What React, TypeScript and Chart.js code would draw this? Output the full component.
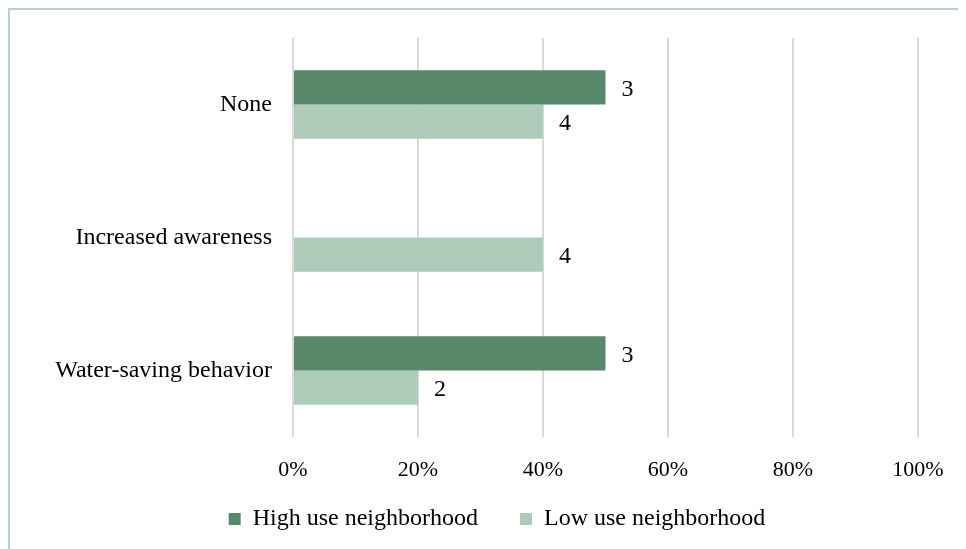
import React, { useEffect, useRef } from "react";
import { Chart, registerables } from "chart.js";

Chart.register(...registerables);

// Survey responses per neighborhood group
const categories = ["None", "Increased awareness", "Water-saving behavior"];
const seriesNames = ["High use neighborhood", "Low use neighborhood"];
const highUseCounts = [3, 0, 3];
const lowUseCounts = [4, 4, 2];
const highUseTotal = 6;
const lowUseTotal = 10;
const xTickValues = [0, 0.2, 0.4, 0.6, 0.8, 1];

const seriesColors = ["#57896a", "#adcbb8"];
const fontFamily = "'Liberation Serif', 'Times New Roman', serif";

const countsBySeries = [highUseCounts, lowUseCounts];

// Writes the raw count to the right of each non-empty bar
const countLabels = {
  id: "countLabels",
  afterDatasetsDraw(chart: any) {
    const ctx = chart.ctx;
    ctx.save();
    ctx.font = `24px ${fontFamily}`;
    ctx.fillStyle = "#000";
    ctx.textAlign = "left";
    ctx.textBaseline = "middle";
    chart.data.datasets.forEach((_: any, di: number) => {
      const meta = chart.getDatasetMeta(di);
      const counts = countsBySeries[di];
      meta.data.forEach((bar: any, i: number) => {
        if (!counts[i]) return;
        ctx.fillText(String(counts[i]), bar.x + 16, bar.y + 2);
      });
    });
    ctx.restore();
  },
};

// Fine-tunes box placement once the layout is known:
// gives the x tick labels room below the axis and centres the legend row
const layoutTweaks = {
  id: "layoutTweaks",
  afterLayout(chart: any) {
    const xs = chart.scales.x;
    xs.bottom = xs.top + 60;
    const lg = chart.legend;
    if (lg) {
      lg.left += 33;
      lg.right += 33;
    }
  },
};

export default function App() {
  const canvasRef = useRef<HTMLCanvasElement | null>(null);

  useEffect(() => {
    if (!canvasRef.current) return;
    Chart.defaults.font.family = fontFamily;
    const chart = new Chart(canvasRef.current, {
      type: "bar",
      data: {
        labels: categories,
        datasets: [
          {
            label: seriesNames[0],
            data: highUseCounts.map((c) => c / highUseTotal),
            backgroundColor: seriesColors[0],
            borderColor: seriesColors[0],
            borderWidth: 0,
            categoryPercentage: 0.515,
            barPercentage: 1,
          },
          {
            label: seriesNames[1],
            data: lowUseCounts.map((c) => c / lowUseTotal),
            backgroundColor: seriesColors[1],
            borderColor: seriesColors[1],
            borderWidth: 0,
            categoryPercentage: 0.515,
            barPercentage: 1,
          },
        ],
      },
      options: {
        indexAxis: "y",
        responsive: false,
        animation: false,
        layout: { padding: { top: 28, right: 48, bottom: 8, left: 0 } },
        scales: {
          x: {
            min: 0,
            max: 1,
            afterBuildTicks: (s: any) => {
              s.ticks = xTickValues.map((v) => ({ value: v }));
            },
            afterFit: (s: any) => {
              s.height = 28;
            },
            grid: { color: "#d9d9d9", lineWidth: 2, drawTicks: false },
            border: { display: false },
            ticks: {
              padding: 20,
              color: "#000",
              font: { size: 22 },
              callback: (v: any) => Math.round(Number(v) * 100) + "%",
            },
          },
          y: {
            afterFit: (s: any) => {
              s.width = 283;
            },
            grid: {
              display: true,
              drawOnChartArea: false,
              drawTicks: true,
              tickLength: 8,
              color: "rgba(0,0,0,0)",
            },
            border: { display: false },
            ticks: { padding: 13, color: "#000", font: { size: 24 } },
          },
        },
        plugins: {
          legend: {
            position: "bottom",
            labels: {
              boxWidth: 12,
              boxHeight: 12,
              padding: 42,
              color: "#000",
              font: { size: 24 },
            },
          },
          tooltip: { enabled: false },
        },
      } as any,
      plugins: [countLabels, layoutTweaks],
    });
    return () => chart.destroy();
  }, []);

  return (
    <>
      <style>{"html,body{overflow:hidden}"}</style>
      <div
        style={{
          width: 956,
          height: 539,
          borderLeft: "2px solid #b9d3c2",
          borderTop: "2px solid #b9d3c2",
        }}
      >
        <canvas ref={canvasRef} width={956} height={539} style={{ display: "block" }} />
      </div>
    </>
  );
}
